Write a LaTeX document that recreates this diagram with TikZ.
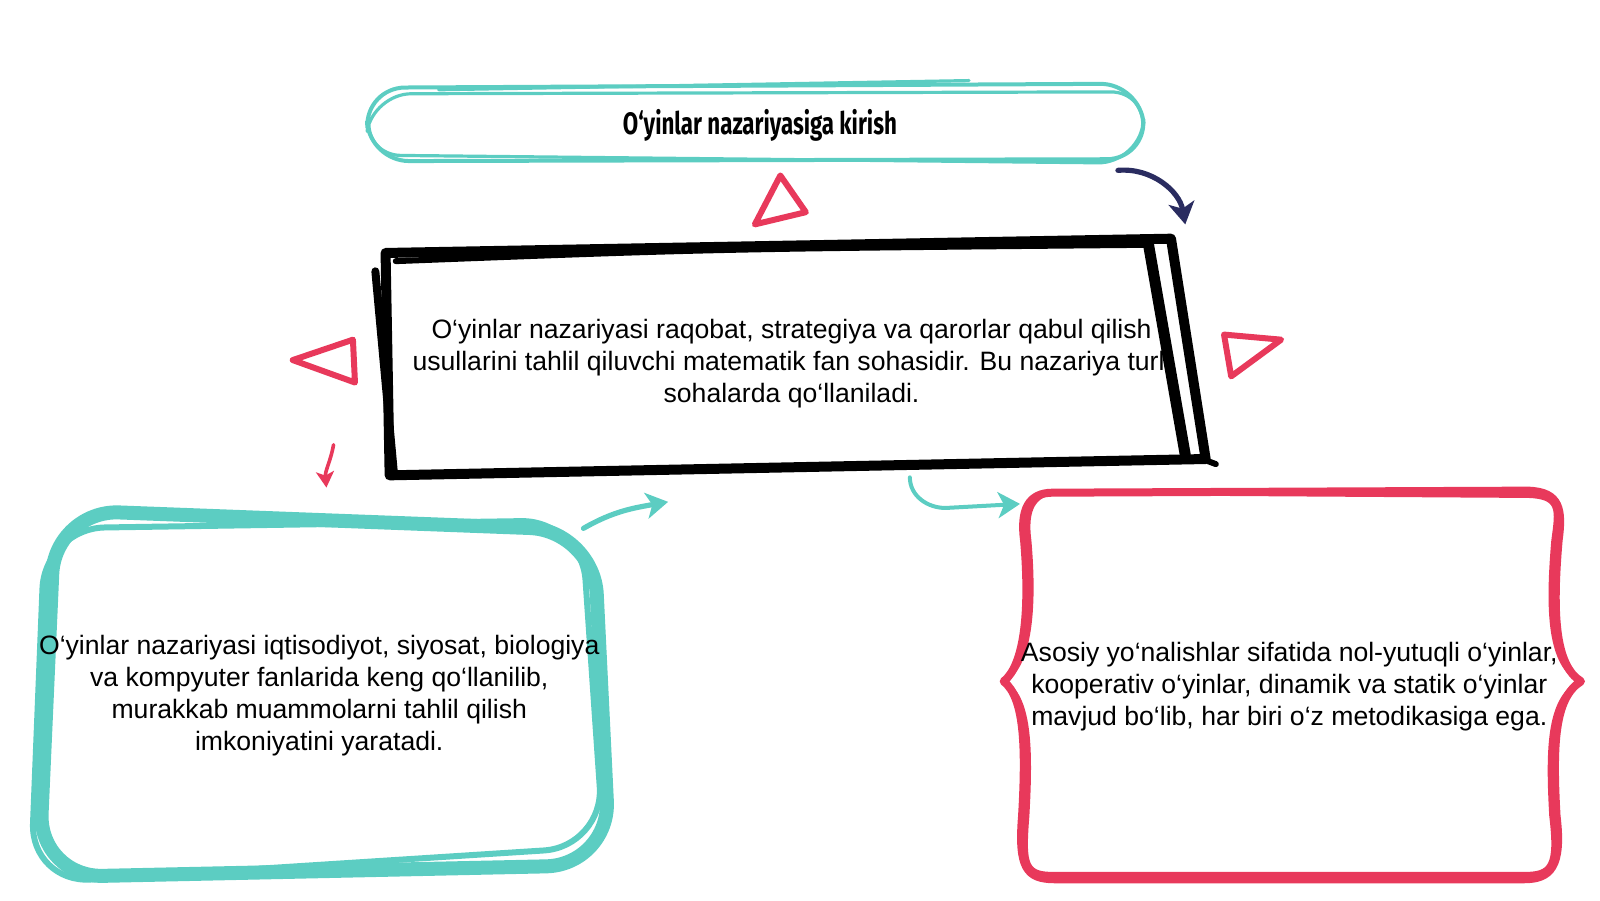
\documentclass[tikz,border=0pt]{standalone}
\usepackage{fontspec}
\setmainfont{Liberation Sans}
\newfontfamily\titlefont[FakeStretch=0.72]{Fira Sans}
\usepackage{tikz}
\usetikzlibrary{calc, arrows.meta}
\definecolor{sketchteal}{HTML}{5CCDC2}
\definecolor{sketchred}{HTML}{E8395B}
\definecolor{sketchnavy}{HTML}{2A2C60}
\tikzstyle{bodytext}  = [align=center, font=\fontsize{13.3}{16}\selectfont, inner sep=0pt]
\tikzstyle{headtext}  = [align=center, font=\titlefont\bfseries\fontsize{15.5}{18}\selectfont, inner sep=0pt]
\tikzstyle{tealpen}   = [draw=sketchteal, line cap=round, line join=round]
\tikzstyle{redpen}    = [draw=sketchred, line cap=round, line join=round]
\tikzstyle{inkpen}    = [draw=black, line cap=round, line join=round]
\tikzstyle{marker}    = [redpen, line width=3pt]
\tikzstyle{arrow}     = [line width=2.6pt, line cap=round, -{Stealth[length=11pt, width=13pt, inset=3pt]}]

\begin{document}
\begin{tikzpicture}[x=0.51pt, y=-0.51pt]
    \useasboundingbox (0,0) rectangle (1568.6,882.4);

    % main text sits under its frame
    \node (main)  [bodytext] at (776,356) {O‘yinlar nazariyasi raqobat, strategiya va qarorlar qabul qilish\\
        usullarini tahlil qiluvchi matematik fan sohasidir. Bu nazariya turli\\ sohalarda qo‘llaniladi.};

    % title frame
    \draw [tealpen, line width=2pt, rounded corners=20pt] (358,86) -- (1118,82) -- (1124,156) -- (362,158) -- cycle;
    \draw [tealpen, line width=1.6pt, rounded corners=19pt] (366,92) -- (1126,90) -- (1114,160) -- (356,152) -- cycle;
    \draw [tealpen, line width=1.6pt] (430,88) -- (950,79);

    % main frame
    \draw [inkpen, line width=5pt] (378,248) -- (1148,234) -- (1182,450) -- (382,466) -- cycle;
    \draw [inkpen, line width=4pt] (368,266) -- (386,462);
    \draw [inkpen, line width=5.5pt] (1126,240) -- (1162,446);
    \draw [inkpen, line width=3pt] (388,256) .. controls (700,244) .. (1124,240);
    \draw [inkpen, line width=3pt] (1184,452) -- (1192,455);

    % applications frame
    \draw [tealpen, line width=7pt, rounded corners=32pt] (54,500) -- (582,520) -- (598,848) -- (38,860) -- cycle;
    \draw [tealpen, line width=3pt, rounded corners=30pt] (44,518) -- (570,510) -- (592,830) -- (30,866) -- cycle;

    % kinds frame
    \foreach \dx/\w in {0/4pt, 5/2.2pt}
        \draw [redpen, line width=\w]
            ($(1032,483)+(\dx,0)$) -- ($(1498,481)+(0,\dx)$)
            .. controls ($(1530,482)+(0,\dx)$) and ($(1532,500)+(-\dx,0)$) .. ($(1528,530)+(-\dx,0)$)
            .. controls ($(1522,600)+(-\dx,0)$) and ($(1524,652)+(-\dx,0)$) .. (1550,668)
            .. controls ($(1524,684)+(-\dx,0)$) and ($(1522,730)+(-\dx,0)$) .. ($(1526,800)+(-\dx,0)$)
            .. controls ($(1532,850)+(-\dx,0)$) and ($(1520,862)+(0,-\dx)$) .. ($(1494,862)+(0,-\dx)$)
            -- ($(1034,862)+(0,-\dx)$)
            .. controls ($(1006,862)+(0,-\dx)$) and ($(998,850)+(\dx,0)$) .. ($(1002,800)+(\dx,0)$)
            .. controls ($(1006,730)+(\dx,0)$) and ($(1004,684)+(\dx,0)$) .. (984,668)
            .. controls ($(1004,652)+(\dx,0)$) and ($(1010,600)+(\dx,0)$) .. ($(1004,530)+(\dx,0)$)
            .. controls ($(1000,500)+(\dx,0)$) and ($(1008,483)+(\dx,0)$) .. cycle;

    % texts on top
    \node (title) [headtext] at (745,123) {O‘yinlar nazariyasiga kirish};
    \node (apps)  [bodytext] at (313,682) {O‘yinlar nazariyasi iqtisodiyot, siyosat, biologiya\\
        va kompyuter fanlarida keng qo‘llanilib,\\ murakkab muammolarni tahlil qilish\\ imkoniyatini yaratadi.};
    \node (kinds) [bodytext] at (1264,673) {Asosiy yo‘nalishlar sifatida nol-yutuqli o‘yinlar,\\
        kooperativ o‘yinlar, dinamik va statik o‘yinlar\\ mavjud bo‘lib, har biri o‘z metodikasiga ega.};

    % markers
    \draw [marker] (765,172) -- (740,220) -- (790,208) -- cycle;
    \draw [marker] (287,353) -- (346,333) -- (348,375) -- cycle;
    \draw [marker] (1200,328) -- (1256,333) -- (1207,369) -- cycle;

    % connectors
    \coordinate (titleout) at (1096,167);
    \coordinate (mainin)   at (1162,220);
    \coordinate (mainleft) at (327,436);
    \coordinate (appsin)   at (320,478);
    \coordinate (appsout)  at (572,518);
    \coordinate (mainbot)  at (655,492);
    \coordinate (mainout)  at (892,468);
    \coordinate (kindsin)  at (1000,494);

    \draw [arrow, sketchnavy] (titleout) to[out=5, in=100] (mainin);
    \draw [arrow, sketchred, line width=1.8pt, -{Stealth[length=8pt, width=9pt, inset=2pt]}] (mainleft) to[out=-100, in=95] (appsin);
    \draw [arrow, sketchteal] (appsout) to[out=30, in=190] (mainbot);
    \draw [arrow, sketchteal, line width=2pt] (mainout) to[out=-90, in=180] ($(mainout)+(35,30)$) -- (kindsin);
\end{tikzpicture}
\end{document}
